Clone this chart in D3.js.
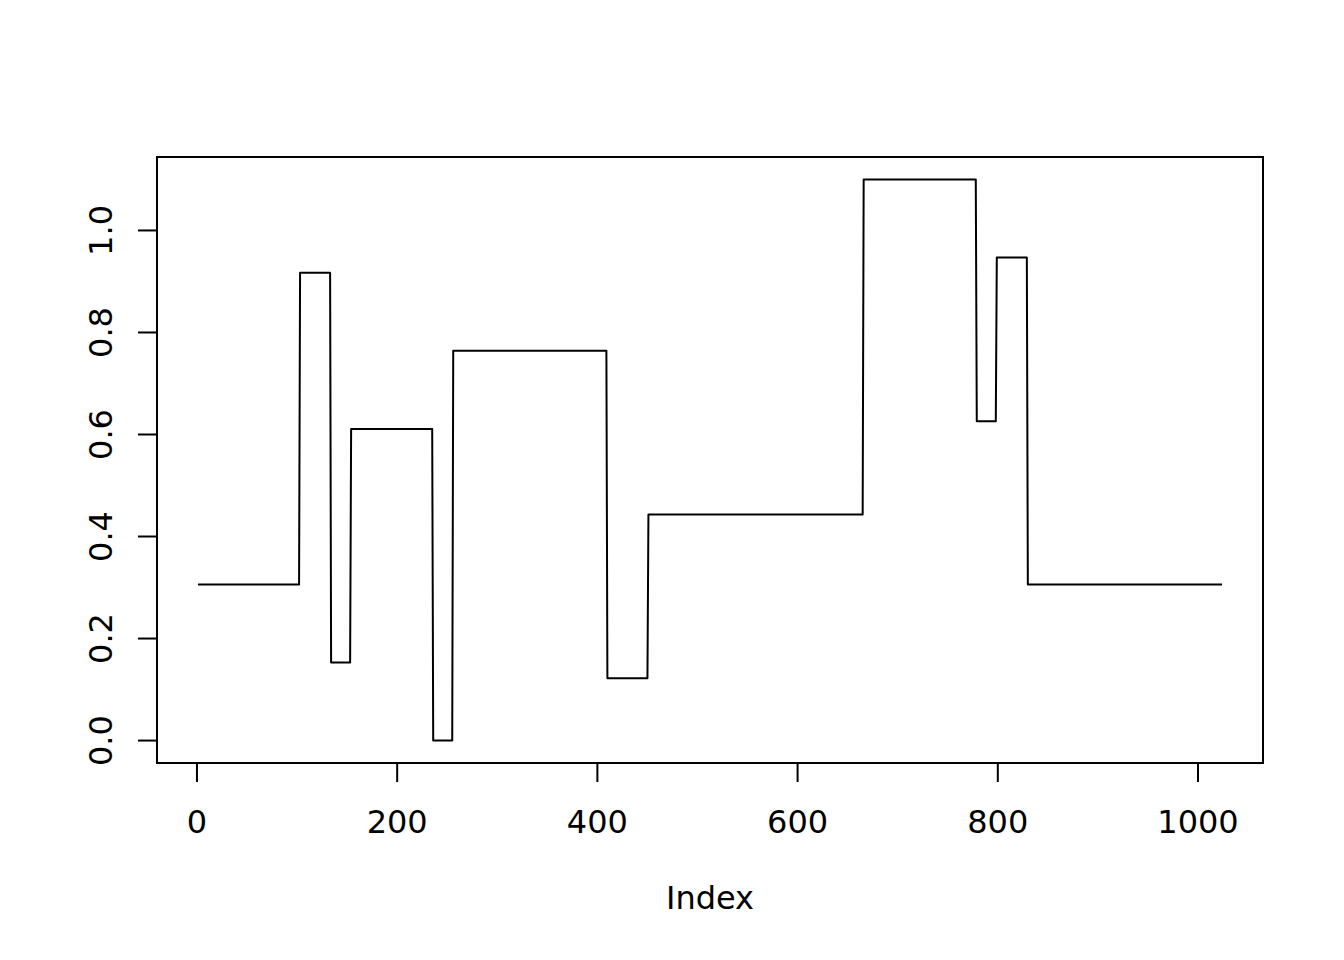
<!DOCTYPE html>
<html>
<head>
<meta charset="utf-8">
<script src="https://cdn.jsdelivr.net/npm/d3@7"></script>
<style>
html,body{margin:0;padding:0;background:#fff;}
svg{display:block;}
text{font-family:"DejaVu Sans",sans-serif;font-size:32px;fill:#000;}
</style>
</head>
<body>
<svg id="chart" width="1344" height="960"></svg>
<script>
// Piecewise-constant series (index ranges and levels)
const segStart = [1, 103, 134, 154, 236, 256, 410, 451, 666, 779, 799, 830];
const segEnd   = [102, 133, 153, 235, 255, 409, 450, 665, 778, 798, 829, 1024];
const segValue = [0.306, 0.917, 0.153, 0.611, 0.000, 0.764, 0.122, 0.443, 1.100, 0.626, 0.947, 0.306];
const xTicks = [0, 200, 400, 600, 800, 1000];
const yTicks = [0.0, 0.2, 0.4, 0.6, 0.8, 1.0];
const xLabel = "Index";

const svg = d3.select("#chart");
const L = 157, R = 1263, T = 157, B = 763;

const xMin = 1, xMax = 1024, xr = xMax - xMin;
const yMin = 0, yMax = 1.1, yr = yMax - yMin;
const x = d3.scaleLinear().domain([xMin - 0.04 * xr, xMax + 0.04 * xr]).range([L, R]);
const y = d3.scaleLinear().domain([yMin - 0.04 * yr, yMax + 0.04 * yr]).range([B, T]);

const pts = [];
segStart.forEach((s, k) => {
  pts.push([s, segValue[k]]);
  pts.push([segEnd[k], segValue[k]]);
});

svg.append("path")
  .datum(pts)
  .attr("fill", "none")
  .attr("stroke", "#000")
  .attr("stroke-width", 2)
  .attr("stroke-linejoin", "round")
  .attr("d", d3.line().x(d => x(d[0])).y(d => y(d[1])));

// box
svg.append("rect")
  .attr("x", L).attr("y", T).attr("width", R - L).attr("height", B - T)
  .attr("fill", "none").attr("stroke", "#000").attr("stroke-width", 2);

// x axis
const xa = svg.append("g").attr("transform", `translate(0,${B})`);
xa.append("line").attr("x1", x(xTicks[0])).attr("x2", x(xTicks[xTicks.length - 1]))
  .attr("stroke", "#000").attr("stroke-width", 2);
xTicks.forEach(t => {
  xa.append("line").attr("x1", x(t)).attr("x2", x(t)).attr("y1", 0).attr("y2", 19)
    .attr("stroke", "#000").attr("stroke-width", 2);
  xa.append("text").attr("x", x(t)).attr("y", 70).attr("text-anchor", "middle").text(d3.format("d")(t));
});

// y axis
const ya = svg.append("g").attr("transform", `translate(${L},0)`);
ya.append("line").attr("y1", y(yTicks[0])).attr("y2", y(yTicks[yTicks.length - 1]))
  .attr("stroke", "#000").attr("stroke-width", 2);
yTicks.forEach(t => {
  ya.append("line").attr("y1", y(t)).attr("y2", y(t)).attr("x1", 0).attr("x2", -19)
    .attr("stroke", "#000").attr("stroke-width", 2);
  ya.append("text")
    .attr("transform", `translate(-45,${y(t)}) rotate(-90)`)
    .attr("text-anchor", "middle").text(d3.format(".1f")(t));
});

svg.append("text").attr("x", (L + R) / 2).attr("y", 909)
  .attr("text-anchor", "middle").text(xLabel);
</script>
</body>
</html>
